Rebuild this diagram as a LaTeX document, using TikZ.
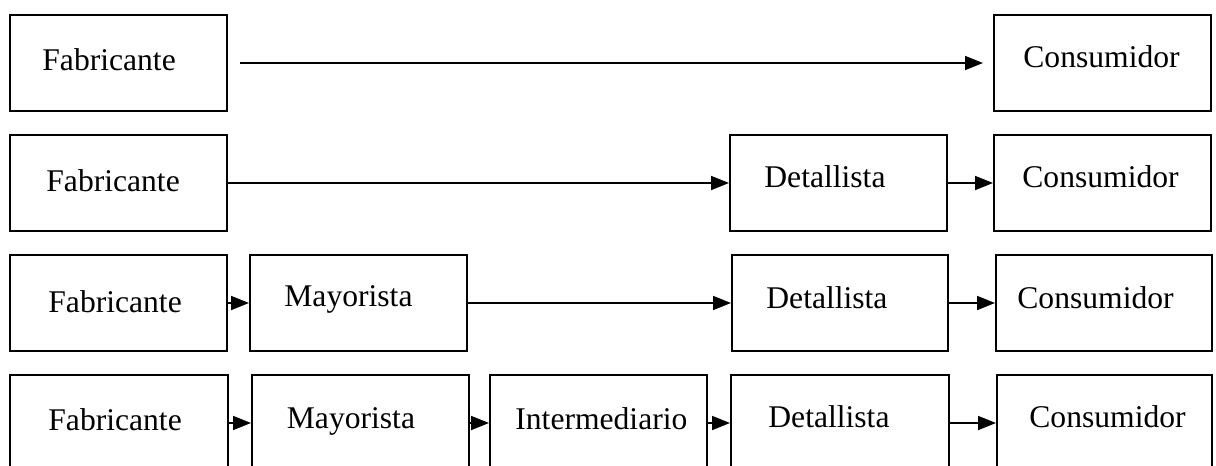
\documentclass[tikz,border=0pt]{standalone}
\usepackage{fontspec}
\setmainfont{Liberation Serif}
\usetikzlibrary{arrows.meta}
\tikzset{
  x=0.5pt, y=-0.5pt,
  box/.style={draw=black, line width=1pt, inner sep=0pt, anchor=north west, sharp corners},
  lbl/.style={anchor=base west, inner sep=0pt, font=\fontsize{15.8}{18}\selectfont},
  arr/.style={line width=0.9pt, -{Triangle[length=9pt,width=7pt]}},
}
\newcommand{\mybox}[5]{\node[box, minimum width=#4*0.5pt, minimum height=#5*0.5pt] (#1) at (#2,#3) {};}
\begin{document}
\begin{tikzpicture}
\useasboundingbox (0,0) rectangle (1216,466);
\clip (0,0) rectangle (1216,466);
% Row 1
\mybox{fa}{9}{14}{217}{96}
\mybox{ca}{993}{14}{217}{96}
\node[lbl] (tfa) at (42,70.7) {Fabricante};
\node[lbl] (tca) at (1023,67) {Consumidor};
\draw[arr] ([xshift=6pt]fa.east) -- ([xshift=-5pt]ca.west);
% Row 2
\mybox{fb}{9}{134}{217}{96}
\mybox{db}{729}{134}{217}{96}
\mybox{cb}{993}{134}{217}{96}
\node[lbl] (tfb) at (46,191) {Fabricante};
\node[lbl] (tdb) at (764,187) {Detallista};
\node[lbl] (tcb) at (1022,187) {Consumidor};
\draw[arr] (fb.east) -- (db.west);
\draw[arr] (db.east) -- (cb.west);
% Row 3
\mybox{fc}{9}{254}{217}{96}
\mybox{mc}{249}{254}{217}{96}
\mybox{dc}{731}{254}{216}{96}
\mybox{cc}{995}{254}{216}{96}
\node[lbl] (tfc) at (48,312.7) {Fabricante};
\node[lbl] (tmc) at (284,306.7) {Mayorista};
\node[lbl] (tdc) at (766,308) {Detallista};
\node[lbl] (tcc) at (1017,308) {Consumidor};
\draw[arr] (fc.east) -- (mc.west);
\draw[arr] (mc.east) -- (dc.west);
\draw[arr] (dc.east) -- (cc.west);
% Row 4
\mybox{fd}{9}{374}{218}{96}
\mybox{md}{251}{374}{217}{96}
\mybox{id}{489}{374}{217}{96}
\mybox{dd}{730}{374}{218}{96}
\mybox{cd}{996}{374}{215}{96}
\node[lbl] (tfd) at (48,430.7) {Fabricante};
\node[lbl] (tmd) at (286.5,428) {Mayorista};
\node[lbl] (tid) at (515,429) {Intermediario};
\node[lbl] (tdd) at (768,427) {Detallista};
\node[lbl] (tcd) at (1029,427) {Consumidor};
\draw[arr] (fd.east) -- (md.west);
\draw[arr] (md.east) -- (id.west);
\draw[arr] (id.east) -- (dd.west);
\draw[arr] (dd.east) -- (cd.west);
\end{tikzpicture}
\end{document}
